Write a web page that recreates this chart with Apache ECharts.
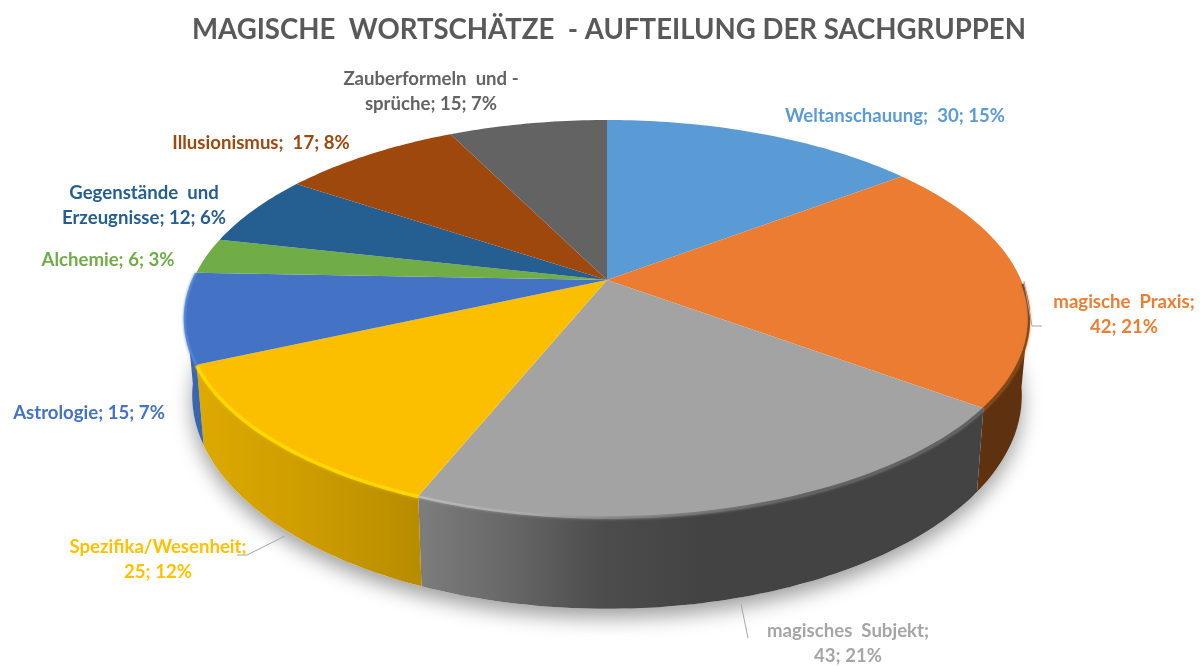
<!DOCTYPE html>
<html><head><meta charset="utf-8">
<style>html,body{margin:0;padding:0;background:#fff}#c{width:1200px;height:666px}</style>
<script src="https://cdn.jsdelivr.net/npm/echarts@6/dist/echarts.min.js"></script>
</head><body><div id="c"></div>
<script>
// ---- data ----
const titleText = 'MAGISCHE  WORTSCHÄTZE  - AUFTEILUNG DER SACHGRUPPEN';
const categories = ['Weltanschauung;', 'magische  Praxis;', 'magisches  Subjekt;', 'Spezifika/Wesenheit;', 'Astrologie;', 'Alchemie;', 'Gegenstände  und\nErzeugnisse;', 'Illusionismus;', 'Zauberformeln  und -\nsprüche;'];
const values = [30, 42, 43, 25, 15, 6, 12, 17, 15];
const percents = [15, 21, 21, 12, 7, 3, 6, 8, 7];
const valueSeparators = ['  ', '\n', '\n', '\n', ' ', ' ', ' ', '  ', ' '];

// ---- styles and layout ----
const colors = ['#5B9BD5', '#EB7C31', '#A3A3A3', '#FBBF00', '#4472C4', '#70AD47', '#255E91', '#9E480E', '#636363'];
const labelColors = ['#5B9BD5', '#ED7D31', '#A5A5A5', '#FFC000', '#4472C4', '#70AD47', '#255E91', '#9E480E', '#636363'];
const labelCenters = [[895,116],[1124,314],[848,643],[158,559],[89,413],[108,260],[144,205],[261,143],[431,91]];
const leaders = [
  [[1024,281],[1032,326],[1042,326]],
  [[741,604],[748,638]],
  [[285,536],[247,555],[237,555]]
];
const cx = 607, cy = 280, kx = 414, ky = 191, persp = 0.194, depthBase = 74, bottomScale = 0.983;
const wallStart = 99, wallEnd = 262;   // degrees of the rim that face the viewer
const total = values.reduce((a, b) => a + b, 0);

function project(deg) {
  const t = deg * Math.PI / 180, x = Math.sin(t), y = Math.cos(t), w = 1 + persp * y;
  return [kx * x / w, -ky * y / w, depthBase / w];
}
const topPt = d => { const p = project(d); return [cx + p[0], cy + p[1]]; };
const botPt = d => { const p = project(d); return [cx + p[0] * bottomScale, cy + p[1] + p[2]]; };
function arc(a, b, fn) {
  const n = Math.max(2, Math.ceil(Math.abs(b - a))), out = [];
  for (let i = 0; i <= n; i++) out.push(fn(a + (b - a) * i / n));
  return out;
}
const grad = (x0, x1, stops) => new echarts.graphic.LinearGradient(x0, 0, x1, 0,
  stops.map(s => ({ offset: s[0], color: s[1] })), true);
const wallFills = {
  1: () => '#5E3110',
  2: () => grad(422, 700, [[0,'#7C7C7C'],[0.3,'#686868'],[0.65,'#4C4C4C'],[1,'#434343']]),
  3: () => grad(200, 425, [[0,'#DDA900'],[0.4,'#D09F00'],[1,'#B68B00']]),
  4: () => '#3A66AD'
};
const rimStrokes = {
  1: () => '#7A4418',
  2: () => grad(422, 800, [[0,'#BEBEBE'],[0.3,'#ABABAB'],[0.5,'#8A8A8A'],[1,'#5E5E5E']]),
  3: () => '#FFDC00',
  4: () => '#4F86D8'
};
const rimWidths = { 1: 2.5, 2: 2.5, 3: 3.5, 4: 2.5 };

let cum = 0;
const sliceRows = values.map((v, i) => { const s = cum; cum += v; return [s / total * 360, cum / total * 360, i]; });

function renderShadow() {
  const pts = arc(0, 360, botPt);
  return { type: 'polygon', shape: { points: pts },
    style: { fill: '#fff', shadowColor: 'rgba(0,0,0,0.38)', shadowBlur: 20, shadowOffsetY: 9, shadowOffsetX: 0 } };
}
function renderWall(params, api) {
  const i = api.value(2), a = Math.max(api.value(0), wallStart), b = Math.min(api.value(1), wallEnd);
  if (b <= a || !wallFills[i]) return null;
  const pts = arc(a, b, topPt).concat(arc(b, a, botPt));
  return { type: 'polygon', shape: { points: pts }, style: { fill: wallFills[i]() } };
}
function renderTop(params, api) {
  const a = api.value(0), b = api.value(1), i = api.value(2);
  const children = [{ type: 'polygon', shape: { points: [[cx, cy]].concat(arc(a, b, topPt)) }, style: { fill: colors[i] } }];
  const ra = Math.max(a, wallStart - 8), rb = Math.min(b, wallEnd + 20);
  if (rb > ra && rimStrokes[i]) {
    children.push({ type: 'polyline', shape: { points: arc(ra, rb, topPt).map(p => [p[0], p[1] + 0.5]) },
      style: { fill: 'none', stroke: rimStrokes[i](), lineWidth: rimWidths[i], opacity: 0.9, shadowColor: colors[i], shadowBlur: 3 } });
  }
  return { type: 'group', children };
}
function renderLabel(params, api) {
  const i = api.value(2), c = labelCenters[i];
  return { type: 'text', style: { x: c[0], y: c[1], text: categories[i] + valueSeparators[i] + values[i] + '; ' + percents[i] + '%',
    fill: labelColors[i], fontFamily: 'Lato', fontWeight: 'bold', fontSize: 18.6, lineHeight: 25, align: 'center', verticalAlign: 'middle' } };
}
function renderLeader(params, api) {
  return { type: 'polyline', shape: { points: leaders[params.dataIndex] }, style: { fill: 'none', stroke: '#A6A6A6', lineWidth: 1 } };
}

const base = { type: 'custom', coordinateSystem: 'none', silent: true, animation: false };
echarts.init(document.getElementById('c')).setOption({
  backgroundColor: '#fff',
  animation: false,
  title: { text: titleText, left: 187, top: 11,
    textStyle: { color: '#595959', fontFamily: 'Lato', fontWeight: 'bold', fontSize: 27.6 } },
  series: [
    Object.assign({}, base, { z: 1, data: [[total]], renderItem: renderShadow }),
    Object.assign({}, base, { z: 2, data: sliceRows, renderItem: renderWall }),
    Object.assign({}, base, { z: 3, data: sliceRows, renderItem: renderTop }),
    Object.assign({}, base, { z: 4, data: leaders.map((l, i) => [i]), renderItem: renderLeader }),
    Object.assign({}, base, { z: 5, data: sliceRows, renderItem: renderLabel })
  ]
});
</script></body></html>
